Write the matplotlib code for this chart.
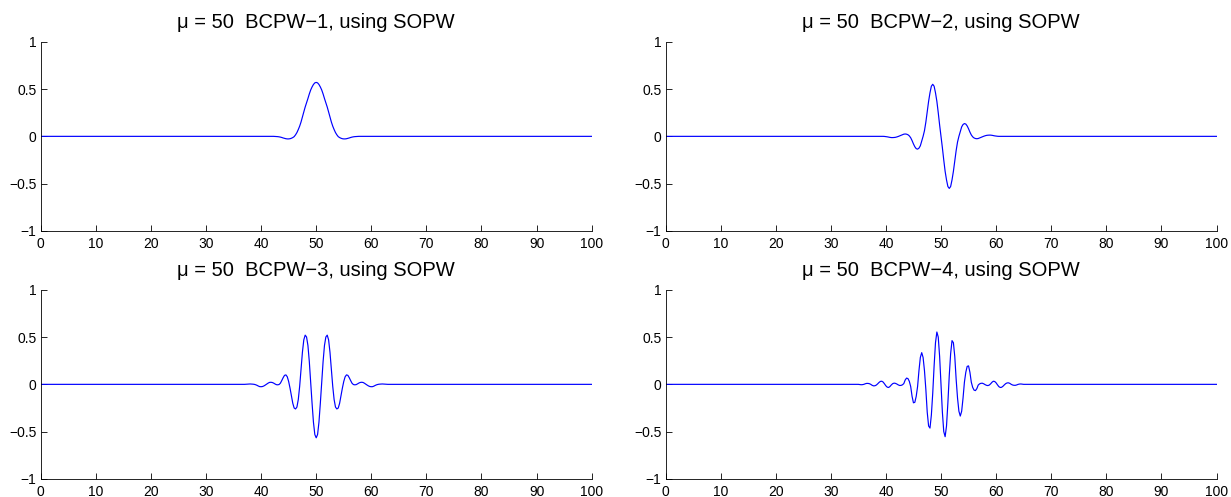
import numpy as np
import matplotlib
matplotlib.use("Agg")
import matplotlib.pyplot as plt

# sample positions of the plotted window (other x are zero)
x_samples = np.arange(35.0, 65.001, 0.25)

titles = ["\u03bc = 50  BCPW\u22121, using SOPW",
          "\u03bc = 50  BCPW\u22122, using SOPW",
          "\u03bc = 50  BCPW\u22123, using SOPW",
          "\u03bc = 50  BCPW\u22124, using SOPW"]

bcpw1 = [0.0] * 29 + [
    0.000, -0.001, -0.002, -0.003, -0.005, -0.008, -0.012, -0.017, -0.021, -0.025,
    -0.027, -0.027, -0.025, -0.020, -0.013, -0.003, 0.016, 0.040, 0.072, 0.108,
    0.152, 0.205, 0.258, 0.310, 0.355, 0.400, 0.448, 0.490, 0.522, 0.548, 0.565,
    0.570,
    0.565, 0.548, 0.522, 0.490, 0.448, 0.400, 0.355, 0.310, 0.258, 0.205,
    0.152, 0.108, 0.072, 0.040, 0.016, -0.003, -0.013, -0.020, -0.025, -0.027,
    -0.027, -0.025, -0.021, -0.017, -0.012, -0.008, -0.005, -0.003, -0.002, -0.001, 0.000,
] + [0.0] * 29

bcpw2 = [0.0] * 19 + [
    -0.001, -0.003, -0.005, -0.008, -0.011, -0.013, -0.013, -0.012, -0.010, -0.006,
    -0.001, 0.005, 0.011, 0.017, 0.023, 0.025, 0.023, 0.017, 0.005, -0.015,
    -0.045, -0.080, -0.110, -0.130, -0.135, -0.125, -0.100, -0.050, 0.000, 0.060,
    0.150, 0.260, 0.370, 0.460, 0.530, 0.550, 0.530, 0.460, 0.370, 0.250, 0.120,
    0.000,
    -0.120, -0.250, -0.370, -0.460, -0.530, -0.550, -0.530, -0.460, -0.370, -0.260,
    -0.150, -0.060, 0.000, 0.050, 0.100, 0.125, 0.135, 0.130, 0.110, 0.080,
    0.045, 0.015, -0.005, -0.017, -0.023, -0.025, -0.023, -0.017, -0.011, -0.005,
    0.001, 0.006, 0.010, 0.012, 0.013, 0.013, 0.011, 0.008, 0.005, 0.003, 0.001,
] + [0.0] * 19

bcpw3 = [0.0] * 9 + [
    0.001, 0.002, 0.003, 0.004, 0.003, 0.002, 0.000, -0.004, -0.010, -0.018,
    -0.024, -0.025, -0.023, -0.017, -0.008, 0.002, 0.012, 0.020, 0.022, 0.020,
    0.014, 0.005, -0.003, -0.005, -0.002, 0.012, 0.040, 0.070, 0.095, 0.100,
    0.080, 0.030, -0.040, -0.120, -0.200, -0.250, -0.260, -0.240, -0.160, -0.020,
    0.160, 0.340, 0.470, 0.520, 0.500, 0.410, 0.240, 0.020, -0.200, -0.400, -0.530,
    -0.565,
    -0.530, -0.400, -0.200, 0.020, 0.240, 0.410, 0.500, 0.520, 0.470, 0.340,
    0.160, -0.020, -0.160, -0.240, -0.260, -0.250, -0.200, -0.120, -0.040, 0.030,
    0.080, 0.100, 0.095, 0.070, 0.040, 0.012, -0.002, -0.005, -0.003, 0.005,
    0.014, 0.020, 0.022, 0.020, 0.012, 0.002, -0.008, -0.017, -0.023, -0.025,
    -0.024, -0.018, -0.010, -0.004, 0.000, 0.002, 0.003, 0.004, 0.003, 0.002, 0.001,
] + [0.0] * 9

bcpw4 = [
    0.000, -0.002, -0.004, -0.003, 0.000, 0.006, 0.010, 0.010, 0.007, 0.000,
    -0.010, -0.016, -0.015, -0.008, 0.005, 0.020, 0.031, 0.033, 0.024, 0.005,
    -0.016, -0.030, -0.033, -0.022, -0.005, 0.008, 0.013, 0.010, 0.003, -0.006,
    -0.012, -0.011, -0.005, 0.008, 0.046, 0.066, 0.061, 0.032, -0.023, -0.127,
    -0.195, -0.190, -0.127, -0.023, 0.145, 0.284, 0.335, 0.284, 0.145, -0.053,
    -0.294, -0.440, -0.462, -0.325, -0.094, 0.195, 0.440, 0.553, 0.499, 0.294,
    0.000,
    -0.294, -0.499, -0.553, -0.440, -0.195, 0.094, 0.325, 0.462, 0.440, 0.294,
    0.053, -0.145, -0.284, -0.335, -0.284, -0.145, 0.023, 0.127, 0.190, 0.195,
    0.127, 0.023, -0.032, -0.061, -0.066, -0.046, -0.008, 0.005, 0.011, 0.012,
    0.006, -0.003, -0.010, -0.013, -0.008, 0.005, 0.022, 0.033, 0.030, 0.016,
    -0.005, -0.024, -0.033, -0.031, -0.020, -0.005, 0.008, 0.015, 0.016, 0.010,
    0.000, -0.007, -0.010, -0.010, -0.006, 0.000, 0.003, 0.004, 0.002, 0.000,
]

series = [bcpw1, bcpw2, bcpw3, bcpw4]

x_ticks = [0, 10, 20, 30, 40, 50, 60, 70, 80, 90, 100]
y_ticks = [-1, -0.5, 0, 0.5, 1]
y_tick_labels = ["\u22121", "\u22120.5", "0", "0.5", "1"]

W, H = 1231, 497
fig = plt.figure(figsize=(W / 100, H / 100), dpi=100)
plt.rcParams['font.family'] = ['Liberation Sans', 'DejaVu Sans']

lefts = [40.7, 665.5, 40.7, 665.5]
bottoms_px = [231.0, 231.0, 479.0, 479.0]
aw, ah = 551.0, 189.3

for i in range(4):
    ax = fig.add_axes([lefts[i] / W, (H - bottoms_px[i]) / H, aw / W, ah / H])
    xs = np.concatenate([[0.0], x_samples, [100.0]])
    ys = np.concatenate([[0.0], np.array(series[i]), [0.0]])
    ax.plot(xs, ys, color='#0000ff', lw=0.85)
    ax.set_xlim(0, 100)
    ax.set_ylim(-1, 1)
    ax.set_xticks(x_ticks)
    ax.set_xticklabels([str(t) for t in x_ticks])
    ax.set_yticks(y_ticks)
    ax.set_yticklabels(y_tick_labels)
    for s in ['top', 'right']:
        ax.spines[s].set_visible(False)
    for s in ['left', 'bottom']:
        ax.spines[s].set_linewidth(0.6)
    ax.tick_params(direction='in', length=4, width=0.6, labelsize=10,
                   top=False, right=False)
    ax.tick_params(axis='x', pad=4)
    ax.tick_params(axis='y', pad=3)
    ax.set_title(titles[i], fontsize=14.5, pad=10)

fig.savefig("out.png", dpi=100)
